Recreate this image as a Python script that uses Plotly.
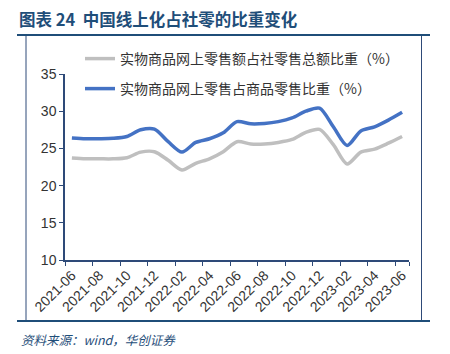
import plotly.graph_objects as go

months = ["2021-06", "2021-07", "2021-08", "2021-09", "2021-10", "2021-11", "2021-12",
          "2022-01", "2022-02", "2022-03", "2022-04", "2022-05", "2022-06", "2022-07",
          "2022-08", "2022-09", "2022-10", "2022-11", "2022-12", "2023-01", "2023-02",
          "2023-03", "2023-04", "2023-05", "2023-06"]

share_total = [23.7, 23.6, 23.6, 23.6, 23.75, 24.5, 24.55, 23.4, 22.1, 23.0, 23.6, 24.55, 25.9,
               25.6, 25.6, 25.8, 26.2, 27.15, 27.55, 25.5, 22.9, 24.5, 24.9, 25.7, 26.6]
share_goods = [26.4, 26.3, 26.3, 26.35, 26.6, 27.5, 27.6, 25.9, 24.5, 25.8, 26.3, 27.1, 28.6,
               28.3, 28.35, 28.6, 29.1, 30.0, 30.4, 27.9, 25.4, 27.35, 27.9, 28.8, 29.85]

name_total = "实物商品网上零售额占社零售总额比重（%）"
name_goods = "实物商品网上零售占商品零售比重（%）"

tick_labels = months[::2]
y_ticks = [10, 15, 20, 25, 30, 35]

title_text = "图表 24  中国线上化占社零的比重变化"
source_text = "资料来源：wind，华创证券"

FONT = "Liberation Sans, Noto Sans CJK SC, sans-serif"
DARK = "#1F4E79"
AXIS = "#2E4A78"

fig = go.Figure()
fig.add_trace(go.Scatter(x=months, y=share_total, mode="lines", name=name_total,
                         line=dict(color="#BFBFBF", width=3.5, shape="spline", smoothing=0.8),
                         legend="legend2", showlegend=True))
fig.add_trace(go.Scatter(x=months, y=share_goods, mode="lines", name=name_goods,
                         line=dict(color="#4472C4", width=3.5, shape="spline", smoothing=0.8),
                         legend="legend3", showlegend=True))

W, H = 450, 354
L, R, T, B = 65, 41, 74, 94
pw, ph = W - L - R, H - T - B

def px(x):
    return (x - L) / pw

def py(y):
    return (H - B - y) / ph

legend_common = dict(bgcolor="rgba(0,0,0,0)", borderwidth=0,
                     font=dict(family="Noto Sans CJK SC, sans-serif", size=14, color="#333333"),
                     xanchor="left", yanchor="middle", itemwidth=30)

fig.update_layout(
    width=W, height=H,
    margin=dict(l=L, r=R, t=T, b=B),
    paper_bgcolor="white", plot_bgcolor="white",
    font=dict(family=FONT, size=13, color="#333333"),
    showlegend=True,
    legend2=dict(x=px(80), y=py(59), **legend_common),
    legend3=dict(x=px(80), y=py(89), **legend_common),
    xaxis=dict(type="category", tickmode="array", tickvals=tick_labels, ticktext=tick_labels,
               tickson="boundaries", tickangle=-45, ticks="outside", ticklen=4,
               tickcolor=AXIS, showline=True, linecolor=AXIS, linewidth=1.5,
               showgrid=False, range=[-0.5, len(months) - 0.5],
               tickfont=dict(family=FONT, size=14, color="#333333")),
    yaxis=dict(range=[10, 35], tickvals=y_ticks, ticks="outside", ticklen=4,
               tickcolor=AXIS, showline=True, linecolor=AXIS, linewidth=1.5,
               showgrid=False, zeroline=False,
               tickfont=dict(family=FONT, size=14, color="#333333")),
    shapes=[
        dict(type="line", xref="paper", yref="paper", x0=px(17), x1=px(430), y0=py(35), y1=py(35),
             line=dict(color=DARK, width=2)),
        dict(type="line", xref="paper", yref="paper", x0=px(17), x1=px(430), y0=py(321), y1=py(321),
             line=dict(color=DARK, width=2)),
        dict(type="line", xref="paper", yref="paper", x0=px(26), x1=px(26), y0=py(36), y1=py(320),
             line=dict(color=AXIS, width=1)),
        dict(type="line", xref="paper", yref="paper", x0=px(421.5), x1=px(421.5), y0=py(36), y1=py(320),
             line=dict(color=AXIS, width=1)),
    ],
    annotations=[
        dict(text="<b>" + title_text + "</b>", xref="paper", yref="paper", x=px(17), y=py(19),
             xanchor="left", yanchor="middle", showarrow=False,
             font=dict(family="Noto Sans CJK SC, sans-serif", size=16.5, color=DARK)),
        dict(text="<i>" + source_text + "</i>", xref="paper", yref="paper", x=px(19), y=py(339),
             xanchor="left", yanchor="middle", showarrow=False,
             font=dict(family="Noto Sans CJK SC, sans-serif", size=12.5, color=DARK)),
    ],
)

fig.write_html("out.html")
